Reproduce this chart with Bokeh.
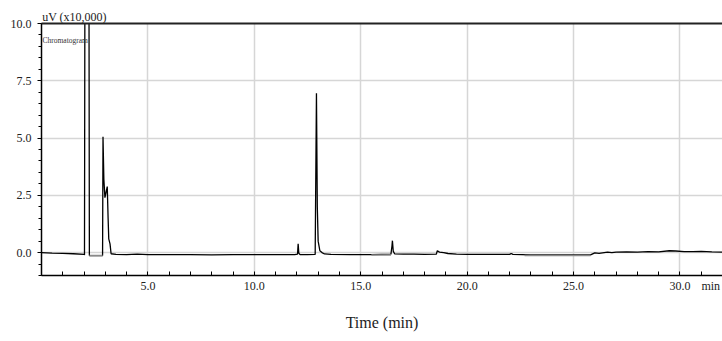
from bokeh.plotting import figure
from bokeh.models import (Range1d, FixedTicker, LinearAxis, Label, CustomJSTickFormatter)
from bokeh.embed import file_html
from bokeh.resources import INLINE

# ---- data ----
time_min = [0.0, 0.5, 1.0, 1.5, 2.0, 2.02, 2.04, 2.23, 2.25, 2.5, 2.87, 2.89, 2.93, 2.98,
            3.05, 3.09, 3.13, 3.16, 3.22, 3.27, 3.5, 4.0, 4.5, 5.0, 6.0, 7.0, 8.0, 9.0,
            10.0, 11.0, 11.9, 12.03, 12.06, 12.09, 12.15, 12.5, 12.86, 12.92, 12.96, 13.0,
            13.08, 13.18, 13.3, 13.6, 14.5, 15.5, 16.42, 16.47, 16.49, 16.53, 16.6, 17.0,
            17.5, 18.0, 18.55, 18.6, 18.7, 18.9, 19.1, 19.5, 20.0, 21.0, 22.0, 22.07, 22.15,
            23.0, 24.0, 25.0, 25.8, 26.0, 26.2, 26.6, 26.8, 27.0, 27.5, 28.0, 28.5, 29.0,
            29.5, 29.8, 30.2, 30.6, 31.0, 31.5, 32.0]
signal = [0.0, -0.02, -0.03, -0.05, -0.08, -0.1, 12.0, 12.0, -0.13, -0.13, -0.13, 5.06, 3.2, 2.4,
          2.7, 2.88, 1.5, 0.6, 0.38, -0.05, -0.08, -0.09, -0.07, -0.09, -0.09, -0.09, -0.1, -0.09,
          -0.09, -0.09, -0.09, -0.07, 0.38, -0.02, -0.09, -0.09, -0.08, 6.95, 2.0, 0.5,
          0.08, 0.0, -0.06, -0.08, -0.09, -0.09, -0.07, 0.3, 0.52, 0.05, -0.06, -0.07,
          -0.07, -0.08, -0.07, 0.08, 0.02, 0.0, -0.04, -0.07, -0.08, -0.08, -0.08, -0.04, -0.08,
          -0.1, -0.1, -0.1, -0.1, -0.01, -0.03, 0.02, 0.0, 0.02, 0.03, 0.02, 0.04, 0.03,
          0.08, 0.07, 0.04, 0.04, 0.05, 0.03, 0.02]

# integration baselines (grey)
base_start = [2.25, 15.5, 22.7]
base_end = [2.87, 16.42, 25.8]
base_level = [-0.13, -0.1, -0.13]

x_major = [5.0, 10.0, 15.0, 20.0, 25.0, 30.0]
y_major = [0.0, 2.5, 5.0, 7.5, 10.0]
x_unit_label = "min"
y_unit_label = "uV (x10,000)"

FONT = "Liberation Serif"
UNIT_X_POS = 31.45      # where the "min" label sits on the x axis
UNIT_Y_POS = 1.55       # centre of the "uV (x10,000)" label along the top edge

p = figure(width=722, height=341, output_backend="svg", toolbar_location=None,
           x_range=Range1d(0, 32), y_range=Range1d(-1.0, 10.0),
           min_border_left=41, min_border_right=0, min_border_top=23, min_border_bottom=66)
p.outline_line_color = None
p.background_fill_color = "white"
p.border_fill_color = "white"

# grid
p.xgrid.ticker = FixedTicker(ticks=x_major)
p.ygrid.ticker = FixedTicker(ticks=[0.0, 2.5, 5.0, 7.5])
for g in (p.xgrid, p.ygrid):
    g.grid_line_color = "#d6d6d6"
    g.grid_line_width = 1.5

# x axis: major ticks carry only labels, tick marks drawn as minor ticks
xa = p.xaxis[0]
xa.ticker = FixedTicker(ticks=x_major + [UNIT_X_POS],
                        minor_ticks=[float(i) for i in range(0, 33)])
xa.formatter = CustomJSTickFormatter(
    args=dict(pos=UNIT_X_POS, unit=x_unit_label),
    code="return Math.abs(tick - pos) < 1e-6 ? unit : tick.toFixed(1);")
xa.axis_line_color = "black"
xa.axis_line_width = 1.5
xa.major_tick_in = 0
xa.major_tick_out = 0
xa.minor_tick_in = 4
xa.minor_tick_out = 0
xa.minor_tick_line_color = "black"
xa.major_label_standoff = 3
xa.major_label_text_font = FONT
xa.major_label_text_font_size = "12px"
xa.major_label_text_color = "#222222"
xa.axis_label = "Time (min)"
xa.axis_label_text_font = FONT
xa.axis_label_text_font_size = "16px"
xa.axis_label_text_font_style = "normal"
xa.axis_label_text_color = "#222222"
xa.axis_label_standoff = 18

# y axis
ya = p.yaxis[0]
ya.ticker = FixedTicker(ticks=y_major, minor_ticks=[i * 0.5 for i in range(-2, 21)])
ya.formatter = CustomJSTickFormatter(code="return tick.toFixed(1);")
ya.axis_line_color = "black"
ya.axis_line_width = 1.5
ya.major_tick_in = 0
ya.major_tick_out = 4
ya.minor_tick_in = 0
ya.minor_tick_out = 3
ya.major_tick_line_color = "black"
ya.minor_tick_line_color = "black"
ya.major_label_standoff = 6
ya.major_label_text_font = FONT
ya.major_label_text_font_size = "12px"
ya.major_label_text_color = "#222222"

# top border as an axis, carrying the intensity unit label
top = LinearAxis(ticker=FixedTicker(ticks=[UNIT_Y_POS]),
                 formatter=CustomJSTickFormatter(args=dict(unit=y_unit_label), code="return unit;"),
                 axis_line_color="#222222", axis_line_width=2,
                 major_tick_line_color=None, minor_tick_line_color=None,
                 major_tick_in=0, major_tick_out=0, minor_tick_in=0, minor_tick_out=0,
                 major_label_standoff=0, major_label_text_font=FONT,
                 major_label_text_font_size="12px", major_label_text_color="#222222")
p.add_layout(top, "above")

# signal and baselines
p.line(time_min, signal, line_color="black", line_width=1.3)
p.segment(x0=base_start, y0=base_level, x1=base_end, y1=base_level,
          line_color="#8a8a8a", line_width=1.5)

p.add_layout(Label(x=0, y=9.26, x_offset=1, text="Chromatogram",
                   text_font=FONT, text_font_size="7.5px", text_color="#333333",
                   text_baseline="middle", text_align="left"))

open("out.html", "w").write(file_html(p, INLINE))
